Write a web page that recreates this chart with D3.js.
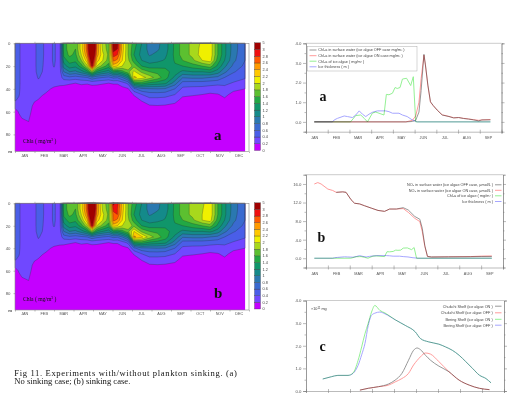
<!DOCTYPE html>
<html>
<head>
<meta charset="utf-8">
<script src="https://cdn.jsdelivr.net/npm/d3@7"></script>
<style>
  body { margin: 0; background: #fff; }
  svg { display: block; }
</style>
</head>
<body>
<svg id="fig" width="518" height="393" font-family="Liberation Sans, Arial, sans-serif"></svg>
<script>
// ---- data ----
const months = ["JAN", "FEB", "MAR", "APR", "MAY", "JUN", "JUL", "AUG", "SEP", "OCT", "NOV", "DEC"];
const depths = [0, 5, 10, 15, 20, 25, 30, 35, 40, 45, 50, 55, 60, 70, 80, 95];
const depthTicks = [0, 20, 40, 60, 80];
// grid columns (months since Jan 1), one Chl-a profile per column
const gridTimes = [0, 0.2, 0.35, 0.7, 1.0, 1.2, 1.4, 1.6, 2.0, 2.3, 2.5, 2.8, 3.1, 3.4, 3.7, 3.95, 4.2, 4.5, 4.8, 5.05,
  5.25, 5.5, 5.8, 6.1, 6.5, 6.9, 7.3, 7.7, 8.2, 8.6, 9.1, 9.6, 10.0, 10.4, 10.75, 11.2, 11.8];
const chlProfilesA = [
  [0.5,0.5,0.5,0.5,0.5,0.5,0.5,0.5,0.48,0.45,0.42,0.26,0.12,0.05,0.02,0],
  [0.45,0.45,0.45,0.45,0.45,0.45,0.45,0.45,0.44,0.42,0.36,0.3,0.22,0.1,0.03,0],
  [0.32,0.32,0.32,0.32,0.32,0.32,0.32,0.32,0.32,0.31,0.3,0.29,0.27,0.15,0.04,0],
  [0.3,0.3,0.3,0.3,0.3,0.3,0.3,0.3,0.3,0.3,0.29,0.28,0.27,0.19,0.05,0],
  [0.34,0.34,0.34,0.34,0.34,0.34,0.33,0.32,0.3,0.27,0.22,0.15,0.1,0.04,0.02,0],
  [0.5,0.5,0.5,0.5,0.5,0.48,0.42,0.35,0.31,0.25,0.19,0.13,0.08,0.04,0.02,0],
  [0.44,0.44,0.44,0.43,0.42,0.4,0.36,0.32,0.27,0.21,0.15,0.1,0.06,0.03,0.01,0],
  [0.32,0.32,0.32,0.32,0.31,0.3,0.29,0.27,0.24,0.18,0.12,0.08,0.05,0.03,0.01,0],
  [0.42,0.42,0.42,0.42,0.41,0.36,0.32,0.26,0.17,0.12,0.08,0.05,0.03,0.02,0.01,0],
  [0.33,0.33,0.33,0.33,0.32,0.31,0.29,0.24,0.15,0.1,0.06,0.04,0.03,0.02,0.01,0],
  [1.5,1.5,1.45,1.3,1.1,0.8,0.5,0.24,0.14,0.08,0.05,0.03,0.02,0.01,0,0],
  [1.7,1.7,1.65,1.5,1.3,1.0,0.55,0.22,0.12,0.07,0.05,0.03,0.02,0.01,0,0],
  [1.6,1.6,1.55,1.45,1.25,0.95,0.5,0.2,0.1,0.06,0.04,0.03,0.02,0.01,0,0],
  [2.1,2.1,2.0,1.8,1.5,1.1,0.55,0.23,0.12,0.07,0.05,0.03,0.02,0.01,0,0],
  [2.7,2.7,2.6,2.35,1.95,1.3,0.6,0.22,0.1,0.06,0.04,0.03,0.02,0.01,0,0],
  [3.8,3.8,3.6,3.3,3.05,1.8,0.75,0.25,0.12,0.06,0.04,0.03,0.02,0.01,0,0],
  [2.6,2.6,2.5,2.3,2.0,1.35,0.65,0.24,0.12,0.06,0.04,0.03,0.02,0.01,0,0],
  [1.9,1.95,2.05,2.0,1.7,1.2,0.6,0.22,0.1,0.06,0.04,0.03,0.02,0.01,0,0],
  [1.7,1.7,1.75,1.7,1.5,1.1,0.55,0.2,0.1,0.06,0.04,0.03,0.02,0.01,0,0],
  [3.2,3.1,2.9,2.65,2.3,1.4,0.65,0.22,0.1,0.06,0.04,0.03,0.02,0.01,0,0],
  [3.05,3.0,2.8,2.55,2.2,1.35,0.62,0.22,0.1,0.06,0.04,0.03,0.02,0.01,0,0],
  [2.3,2.3,2.25,2.2,2.0,1.5,0.8,0.3,0.14,0.08,0.05,0.03,0.02,0.01,0,0],
  [1.8,1.8,1.8,1.85,1.9,1.75,1.1,0.45,0.18,0.1,0.06,0.04,0.02,0.01,0,0],
  [1.5,1.45,1.4,1.5,1.75,2.05,2.25,1.4,0.55,0.22,0.1,0.06,0.03,0.02,0,0],
  [1.2,1.15,1.12,1.2,1.4,1.75,2.1,1.5,0.75,0.4,0.22,0.1,0.05,0.02,0,0],
  [0.9,0.92,0.98,1.1,1.3,1.6,1.9,1.35,0.78,0.5,0.32,0.18,0.08,0.03,0.01,0],
  [0.95,0.97,1.05,1.15,1.32,1.55,1.7,1.3,0.8,0.5,0.32,0.19,0.08,0.03,0.01,0],
  [1.1,1.1,1.15,1.22,1.35,1.48,1.5,1.25,0.78,0.48,0.31,0.18,0.08,0.03,0.01,0],
  [1.45,1.45,1.45,1.42,1.38,1.3,1.15,0.9,0.6,0.4,0.26,0.15,0.07,0.03,0.01,0],
  [1.7,1.7,1.7,1.6,1.4,1.15,0.82,0.52,0.35,0.24,0.14,0.08,0.04,0.02,0,0],
  [1.85,1.85,1.85,1.75,1.5,1.2,0.85,0.5,0.34,0.22,0.12,0.07,0.04,0.02,0,0],
  [2.05,2.08,2.1,2.0,1.6,1.2,0.85,0.5,0.33,0.2,0.11,0.06,0.03,0.02,0,0],
  [2.15,2.15,2.15,2.1,1.7,1.25,0.8,0.48,0.3,0.17,0.1,0.06,0.03,0.02,0,0],
  [1.6,1.6,1.6,1.5,1.35,1.1,0.75,0.45,0.3,0.19,0.11,0.06,0.03,0.02,0,0],
  [1.25,1.25,1.25,1.2,1.05,0.85,0.6,0.45,0.33,0.24,0.17,0.1,0.05,0.02,0,0],
  [0.9,0.9,0.88,0.85,0.75,0.62,0.5,0.38,0.24,0.15,0.09,0.05,0.03,0.02,0,0],
  [0.62,0.62,0.62,0.6,0.55,0.5,0.42,0.32,0.2,0.13,0.08,0.05,0.03,0.02,0,0]
];
// sinking case (b): same field except these cells [column, depth row, value]
const chlChangesB = [[23,5,2.2],[23,6,2.45],[24,6,2.25],[19,0,3.05],[19,1,2.9],[19,2,2.7],
  [20,0,2.9],[20,1,2.8],[31,0,1.95],[31,1,1.98],[31,2,2.0]];

const levels = [0, 0.2, 0.4, 0.6, 0.8, 1.0, 1.2, 1.4, 1.6, 1.8, 2.0, 2.2, 2.4, 2.6, 2.8, 3.0];
const levelLabels = ["0","0.2","0.4","0.6","0.8","1","1.2","1.4","1.6","1.8","2","2.2","2.4","2.6","2.8","3","5"];
const levelColors = ["#c400ff","#7048ff","#4a5ee8","#3a6ad0","#2a78b0","#148a8a","#10966a","#22a844",
  "#5cc030","#a8d81c","#f0f000","#ffc800","#ff9a00","#ff5a00","#f01010","#a00000"];

// right panel a: surface Chl-a, ice algae, ice thickness
const chlT   = [0.38, 4.6, 4.9, 5.05, 5.2, 5.3, 5.43, 5.5, 5.61, 5.73, 5.86, 6.04, 6.27, 6.58, 6.8, 7.03, 7.26, 7.49, 7.72, 7.95, 8.1, 8.49];
const chlOff = [0, 0, 0.02, 0.08, 0.5, 1.6, 3.44, 2.9, 1.88, 1.03, 0.83, 0.6, 0.35, 0.27, 0.2, 0.22, 0.17, 0.14, 0.1, 0.05, 0.1, 0.1];
const chlOn  = [0, 0, 0.08, 0.3, 1.0, 2.2, 3.4, 2.85, 1.85, 1.0, 0.82, 0.6, 0.36, 0.28, 0.21, 0.22, 0.18, 0.15, 0.11, 0.08, 0.1, 0.12];
const iceAlgT = [0.38, 2.05, 2.29, 2.52, 2.68, 2.83, 3.06, 3.21, 3.59, 3.7, 3.82, 3.98, 4.1, 4.2, 4.33, 4.44, 4.63, 4.82, 4.94, 5.05, 8.49];
const iceAlgV = [0, 0, 0.32, 0.35, 0.18, 0, 0.45, 0.5, 0.35, 1.4, 1.38, 1.46, 1.75, 1.7, 1.75, 2.18, 2.22, 1.85, 2.3, 0, 0];
const iceT = [0.38, 1.22, 1.3, 1.45, 1.76, 1.91, 2.14, 2.29, 2.45, 2.6, 2.75, 2.9, 3.06, 3.29, 3.67, 3.82, 3.98, 4.28, 4.44, 4.66, 4.89, 5.12, 8.49];
const iceV = [0, 0, 0.1, 0.18, 0.3, 0.27, 0.22, 0.35, 0.56, 0.39, 0.27, 0.39, 0.49, 0.56, 0.56, 0.52, 0.44, 0.44, 0.35, 0.27, 0.1, 0, 0];

// right panel b: surface NO3
const no3T   = [0.38, 0.54, 0.69, 1.0, 1.22, 1.38, 1.68, 1.83, 2.06, 2.22, 2.45, 2.68, 2.98, 3.29, 3.59, 3.82, 4.13, 4.44, 4.67, 4.97, 5.2, 5.31, 5.43, 5.55, 5.73, 6.5, 7.5, 8.0, 8.49];
const no3On  = [16.0, 16.3, 16.0, 14.9, 14.6, 14.2, 14.3, 14.2, 12.6, 11.85, 11.7, 11.3, 10.8, 10.3, 10.1, 10.6, 10.6, 10.7, 9.9, 8.6, 7.9, 5.8, 2.5, 0.35, 0.25, 0.3, 0.35, 0.45, 0.5];
const no3Off = [null, null, null, null, null, 14.2, 14.3, 14.2, 12.6, 11.85, 11.7, 11.3, 10.8, 10.3, 10.1, 10.6, 10.6, 10.9, 10.4, 9.0, 8.4, 6.5, 2.7, 0.4, 0.28, 0.3, 0.32, 0.35, 0.35];

// right panel c: integrated Chl-a (x10^11 mg)
const beringT   = [0.76, 1.15, 1.45, 1.91, 2.14, 2.37, 2.53, 2.68, 2.83, 2.98, 3.13, 3.36, 3.59, 4.05, 4.51, 4.97, 5.2, 5.58, 6.04, 6.34, 6.65, 6.96, 7.26, 7.57, 7.88, 8.18, 8.41];
const beringOn  = [0.53, 0.63, 0.69, 0.69, 0.8, 1.36, 1.95, 2.53, 3.0, 3.49, 3.78, 3.56, 3.45, 3.15, 2.9, 2.61, 2.32, 2.17, 2.07, 1.95, 1.8, 1.58, 1.3, 1.0, 0.7, 0.55, 0.36];
const beringOff = [0.53, 0.63, 0.69, 0.69, 0.78, 1.14, 1.6, 2.1, 2.9, 3.35, 3.44, 3.49, 3.41, 3.15, 2.9, 2.61, 2.32, 2.17, 2.07, 1.95, 1.8, 1.58, 1.3, 1.0, 0.7, 0.55, 0.36];
const chukT   = [2.45, 2.83, 3.29, 3.75, 4.05, 4.36, 4.66, 4.89, 5.05, 5.2, 5.43, 5.66, 6.04, 6.5, 6.96, 7.42, 7.88, 8.34];
const chukOn  = [0.04, 0.12, 0.19, 0.31, 0.48, 0.78, 1.36, 1.8, 1.9, 1.83, 1.58, 1.36, 1.1, 0.85, 0.48, 0.26, 0.12, 0.06];
const chukOff = [0.04, 0.12, 0.19, 0.26, 0.4, 0.55, 0.78, 1.15, 1.35, 1.51, 1.68, 1.63, 1.3, 0.85, 0.48, 0.26, 0.12, 0.06];

const legendA = ["Chl-a in surface water (ice algae OFF case mg/m\u00b3 )", "Chl-a in surface water (ice algae ON case mg/m\u00b3 )",
  "Chl-a of ice algae ( mg/m\u00b2 )", "Ice thickness ( m )"];
const legendB = ["NO\u2083 in surface water (ice algae OFF case, \u00b5mol/L )", "NO\u2083 in surface water (ice algae ON case, \u00b5mol/L )",
  "Chl-a of ice algae ( mg/m\u00b2 )", "Ice thickness ( m )"];
const legendC = ["Chukchi Shelf (ice algae  ON )", "Chukchi Shelf (ice algae OFF )", "Bering Shelf  (ice algae  ON )", "Bering Shelf  (ice algae OFF )"];
const lineColors = ["#8c8c8c", "#ff9090", "#88ee88", "#9c9cff"];

// ---- drawing ----
const svg = d3.select("#fig");
svg.append("rect").attr("width", 518).attr("height", 393).attr("fill", "#fff");

function axisStyle(g) {
  g.attr("font-family", null).attr("font-size", null);
  g.selectAll("path, line").attr("stroke", "#777").attr("stroke-width", 0.5);
  g.selectAll("text").attr("font-size", 4.3).attr("fill", "#555");
}

function contourPanel(profiles, box, tag) {
  const nx = gridTimes.length, ny = depths.length;
  const x = d3.scaleLinear().domain([0, 12]).range([box.x0, box.x1]);
  const y = d3.scaleLinear().domain([0, 95]).range([box.y0, box.y1]);
  const iT = d3.scaleLinear().domain(d3.range(nx)).range(gridTimes).clamp(true);
  const iD = d3.scaleLinear().domain(d3.range(ny)).range(depths).clamp(true);
  const flat = [];
  for (let j = 0; j < ny; j++) for (let i = 0; i < nx; i++) flat.push(profiles[i][j]);
  const proj = d3.geoTransform({
    point(px, py) { this.stream.point(x(iT(px - 0.5)), y(iD(py - 0.5))); }
  });
  const path = d3.geoPath(proj);
  const bands = d3.contours().size([nx, ny]).thresholds(levels)(flat);

  const g = svg.append("g");
  g.selectAll("path.band").data(bands).join("path")
    .attr("class", "band").attr("d", path)
    .attr("fill", (d, i) => levelColors[i]);
  g.selectAll("path.iso").data(bands.slice(1)).join("path")
    .attr("class", "iso").attr("d", path)
    .attr("fill", "none").attr("stroke", "#222").attr("stroke-width", 0.35).attr("stroke-opacity", 0.75);

  // frame
  g.append("rect").attr("x", box.x0).attr("y", box.y0)
    .attr("width", box.x1 - box.x0).attr("height", box.y1 - box.y0)
    .attr("fill", "none").attr("stroke", "#888").attr("stroke-width", 0.6);

  const ya = g.append("g").attr("transform", `translate(${box.x0},0)`)
    .call(d3.axisLeft(y).tickValues(depthTicks).tickSize(1.5).tickFormat(d3.format("d")));
  axisStyle(ya);
  ya.select(".domain").remove();
  g.append("text").attr("x", box.x0 - 3).attr("y", box.y1 + 1.5).attr("text-anchor", "end")
    .attr("font-size", 4.3).attr("font-weight", "bold").attr("fill", "#444").text("m");

  const xa = g.append("g").attr("transform", `translate(0,${box.y1})`)
    .call(d3.axisBottom(x).tickValues(d3.range(0, 13)).tickSize(1.5).tickFormat(""));
  axisStyle(xa);
  xa.select(".domain").remove();
  const xt = g.append("g").attr("transform", `translate(0,${box.y0})`)
    .call(d3.axisTop(x).tickValues(d3.range(1, 12)).tickSize(1.5).tickFormat(""));
  axisStyle(xt);
  xt.select(".domain").remove();
  g.selectAll("text.mon").data(months).join("text").attr("class", "mon")
    .attr("x", (d, i) => x(i + 0.5)).attr("y", box.y1 + 5)
    .attr("text-anchor", "middle").attr("font-size", 3.8).attr("fill", "#555").text(d => d);

  // unit label and panel letter
  const lab = g.append("text").attr("x", box.x0 + 8).attr("y", box.y1 - 9)
    .attr("font-family", "Liberation Serif, serif").attr("font-size", 5.6).attr("fill", "#111");
  lab.append("tspan").text("Chla ( mg/m");
  lab.append("tspan").attr("dy", -2).attr("font-size", 3.6).text("3");
  lab.append("tspan").attr("dy", 2).text(" )");
  g.append("text").attr("x", box.x0 + 199).attr("y", box.y1 - 12)
    .attr("font-family", "Liberation Serif, serif").attr("font-weight", "bold")
    .attr("font-size", 15).attr("fill", "#111").text(tag);

  // colour bar
  const cb = d3.scaleLinear().domain([0, levels.length]).range([box.y1 - 1, box.y0 - 0.5]);
  const cbg = g.append("g");
  cbg.selectAll("rect").data(levelColors).join("rect")
    .attr("x", 254.5).attr("width", 6)
    .attr("y", (d, i) => cb(i + 1)).attr("height", (d, i) => cb(i) - cb(i + 1))
    .attr("fill", d => d).attr("stroke", "#333").attr("stroke-width", 0.3);
  cbg.selectAll("text").data(levelLabels).join("text")
    .attr("x", 262.5).attr("y", (d, i) => cb(i) + 1.4)
    .attr("font-size", 3.8).attr("fill", "#444").text(d => d);
}

contourPanel(chlProfilesA, { x0: 15, x1: 249, y0: 43.3, y1: 151.5 }, "a");
const chlProfilesB = chlProfilesA.map(c => c.slice());
chlChangesB.forEach(([i, j, v]) => { chlProfilesB[i][j] = v; });
contourPanel(chlProfilesB, { x0: 15, x1: 249, y0: 203.3, y1: 310 }, "b");

function linePanel(o) {
  const x = d3.scaleLinear().domain([0, 9]).range([o.x0, o.x1]);
  const y = d3.scaleLinear().domain(o.yDomain).range([o.y1, o.y0]);
  const g = svg.append("g");
  g.append("line").attr("x1", o.x0).attr("x2", o.x1).attr("y1", o.y0).attr("y2", o.y0)
    .attr("stroke", "#999").attr("stroke-width", 0.5);

  const ax = (axis, tx) => {
    const a = g.append("g").attr("transform", tx).call(axis);
    axisStyle(a);
    return a;
  };
  ax(d3.axisLeft(y).tickValues(o.major).tickSize(3).tickPadding(1.5).tickFormat(d3.format(".1f")), `translate(${o.x0},0)`);
  ax(d3.axisLeft(y).tickValues(o.minor).tickSize(1.5).tickFormat(""), `translate(${o.x0},0)`);
  ax(d3.axisRight(y).tickValues(o.major).tickSize(3).tickFormat(""), `translate(${o.x1},0)`);
  ax(d3.axisRight(y).tickValues(o.minor).tickSize(1.5).tickFormat(""), `translate(${o.x1},0)`);
  ax(d3.axisBottom(x).tickValues(d3.range(0, 10)).tickSize(2).tickFormat(""), `translate(0,${o.y1})`);
  ax(d3.axisTop(x).tickValues(d3.range(0, 10)).tickSize(2).tickFormat(""), `translate(0,${o.y1})`).select(".domain").remove();
  if (o.labels) {
    g.selectAll("text.mon").data(months.slice(0, 9)).join("text").attr("class", "mon")
      .attr("x", (d, i) => x(i + 0.4)).attr("y", o.y1 + 7)
      .attr("text-anchor", "middle").attr("font-size", 3.8).attr("fill", "#555").text(d => d);
  }

  const line = d3.line().defined(d => d[1] != null).x(d => x(d[0])).y(d => y(d[1])).curve(o.curve || d3.curveLinear);
  o.series.forEach((s, k) => {
    g.append("path").datum(s.t.map((t, i) => [t, s.v[i]]))
      .attr("d", line).attr("fill", "none").attr("stroke", lineColors[s.c])
      .attr("stroke-width", 0.9).style("mix-blend-mode", "multiply");
  });

  // legend
  const lg = g.append("g").attr("font-size", 3.8).attr("fill", "#444");
  if (o.legendBox) {
    lg.append("rect").attr("x", o.legendBox[0]).attr("y", o.legendBox[1])
      .attr("width", o.legendBox[2]).attr("height", o.legendBox[3])
      .attr("fill", "#fff").attr("stroke", "#999").attr("stroke-width", 0.4);
  }
  o.legend.forEach((txt, k) => {
    const yy = o.legendY[k];
    lg.append("line").attr("x1", o.legendLine[0]).attr("x2", o.legendLine[1]).attr("y1", yy).attr("y2", yy)
      .attr("stroke", lineColors[k]).attr("stroke-width", 0.9);
    lg.append("text").attr("x", o.legendText).attr("y", yy + 1.3)
      .attr("text-anchor", o.legendAnchor).text(txt);
  });

  g.append("text").attr("x", o.tag[1]).attr("y", o.tag[2])
    .attr("font-family", "Liberation Serif, serif").attr("font-weight", "bold")
    .attr("font-size", 14).attr("fill", "#111").text(o.tag[0]);
  return g;
}

linePanel({
  x0: 306, x1: 501.5, y0: 43.3, y1: 131.7, yDomain: [-0.5, 4],
  major: [0, 1, 2, 3, 4], minor: [-0.5, 0.5, 1.5, 2.5, 3.5], labels: true,
  series: [
    { t: chlT, v: chlOn, c: 1 }, { t: chlT, v: chlOff, c: 0 },
    { t: iceAlgT, v: iceAlgV, c: 2 }, { t: iceT, v: iceV, c: 3 }
  ],
  legend: legendA, legendY: [50, 55.7, 61.2, 66.8], legendLine: [309.5, 316.5], legendText: 318.3,
  legendAnchor: "start", legendBox: [307.5, 46.5, 109.5, 24.5],
  tag: ["a", 319.5, 101]
});

linePanel({
  x0: 306, x1: 503, y0: 174.7, y1: 267.5, yDomain: [-2, 18],
  major: [0, 4, 8, 12, 16], minor: [-2, 2, 6, 10, 14, 18], labels: true,
  series: [
    { t: no3T, v: no3On, c: 1 }, { t: no3T, v: no3Off, c: 0 },
    { t: iceAlgT, v: iceAlgV, c: 2 }, { t: iceT, v: iceV, c: 3 }
  ],
  legend: legendB, legendY: [184.8, 190.3, 195.8, 201.5], legendLine: [495, 501.5], legendText: 493,
  legendAnchor: "end", legendBox: null,
  tag: ["b", 317.5, 241.5]
});

const pc = linePanel({
  x0: 306, x1: 504, y0: 300.5, y1: 391, yDomain: [0, 4],
  major: [0, 1, 2, 3, 4], minor: [0.5, 1.5, 2.5, 3.5], labels: false, curve: d3.curveMonotoneX,
  series: [
    { t: chukT, v: chukOff, c: 1 }, { t: chukT, v: chukOn, c: 0 },
    { t: beringT, v: beringOn, c: 2 }, { t: beringT, v: beringOff, c: 3 }
  ],
  legend: legendC, legendY: [306.2, 312.8, 319.3, 325.2], legendLine: [495, 501.5], legendText: 492.7,
  legendAnchor: "end", legendBox: null,
  tag: ["c", 319.5, 350.5]
});
const unit = pc.append("text").attr("x", 311).attr("y", 310.3).attr("font-size", 3.8).attr("fill", "#444");
unit.append("tspan").text("\u00d710");
unit.append("tspan").attr("dy", -1.5).attr("font-size", 2.8).text("11");
unit.append("tspan").attr("dy", 1.5).text(" mg");

// caption (first line justified to the column width)
const cap = svg.append("g").attr("font-family", "Liberation Serif, 'Times New Roman', serif")
  .attr("font-size", 8.6).attr("fill", "#111");
cap.append("text").attr("x", 14.3).attr("y", 375.8)
  .attr("textLength", 222.5).attr("lengthAdjust", "spacing")
  .text("Fig 11. Experiments with/without plankton sinking. (a)");
cap.append("text").attr("x", 14.3).attr("y", 384.3).text("No sinking case; (b) sinking case.");
</script>
</body>
</html>
